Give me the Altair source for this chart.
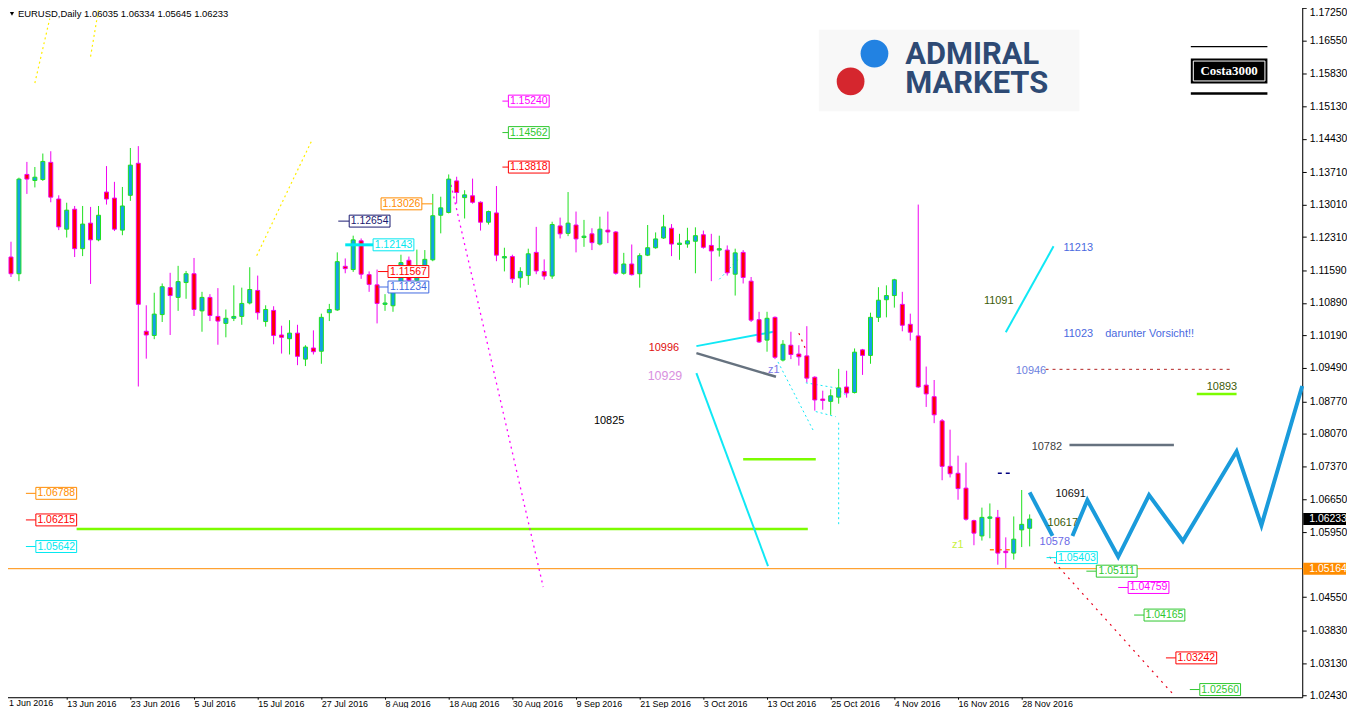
import json
import altair as alt
import pandas as pd

# ---------------- data ----------------
# daily candles, index 0 = 1 Jun 2016, index 129 = 29 Nov 2016
OPEN = [1.1128, 1.1188, 1.1152, 1.1366, 1.1353, 1.1355, 1.1392, 1.1313, 1.1248, 1.1291,
        1.1206, 1.1261, 1.1225, 1.1328, 1.1315, 1.1246, 1.1321, 1.1390, 1.1028, 1.1019,
        1.1064, 1.1122, 1.1101, 1.1133, 1.1152, 1.1072, 1.1101, 1.1060, 1.1045, 1.1056,
        1.1060, 1.1089, 1.1116, 1.1049, 1.1073, 1.1020, 1.1012, 1.1024, 1.0968, 1.0992,
        1.0985, 1.1068, 1.1074, 1.1168, 1.1161, 1.1223, 1.1150, 1.1128, 1.1086, 1.1083,
        1.1133, 1.1181, 1.1138, 1.1165, 1.1182, 1.1278, 1.1284, 1.1352, 1.1316, 1.1320,
        1.1306, 1.1263, 1.1283, 1.1186, 1.1189, 1.1143, 1.1148, 1.1198, 1.1157, 1.1147,
        1.1255, 1.1239, 1.1257, 1.1230, 1.1238, 1.1216, 1.1246, 1.1242, 1.1153, 1.1173,
        1.1152, 1.1192, 1.1208, 1.1229, 1.1250, 1.1215, 1.1216, 1.1222, 1.1236, 1.1213,
        1.1203, 1.1203, 1.1151, 1.1198, 1.1136, 1.1053, 1.1009, 1.1058, 1.0966, 1.0998,
        1.0979, 1.0975, 1.0929, 1.0882, 1.0877, 1.0886, 1.0908, 1.0896, 1.0988, 1.0976,
        1.1058, 1.1096, 1.1105, 1.1086, 1.1043, 1.1018, 1.0912, 1.0887, 1.0835, 1.0737,
        1.0722, 1.0690, 1.0620, 1.0587, 1.0625, 1.0627, 1.0554, 1.0550, 1.0600, 1.06035]
HIGH = [1.1196, 1.1221, 1.1359, 1.1393, 1.1382, 1.1411, 1.1416, 1.1321, 1.1305, 1.1298,
        1.1298, 1.1296, 1.1298, 1.1384, 1.1350, 1.1339, 1.1423, 1.1427, 1.1084, 1.1111,
        1.1131, 1.1154, 1.1169, 1.1158, 1.1186, 1.1113, 1.1108, 1.1121, 1.1075, 1.1127,
        1.1122, 1.1166, 1.1148, 1.1084, 1.1082, 1.1040, 1.1052, 1.1042, 1.0998, 1.1030,
        1.1066, 1.1087, 1.1198, 1.1185, 1.1234, 1.1228, 1.1157, 1.1161, 1.1108, 1.1125,
        1.1193, 1.1189, 1.1204, 1.1203, 1.1324, 1.1318, 1.1366, 1.1361, 1.1332, 1.1357,
        1.1308, 1.1288, 1.1341, 1.1208, 1.1193, 1.1166, 1.1206, 1.1253, 1.1183, 1.1264,
        1.1273, 1.1328, 1.1286, 1.1268, 1.1250, 1.1275, 1.1286, 1.1244, 1.1197, 1.1215,
        1.1196, 1.1257, 1.1241, 1.1279, 1.1259, 1.1238, 1.1251, 1.1252, 1.1245, 1.1238,
        1.1234, 1.1213, 1.1206, 1.1203, 1.1145, 1.1070, 1.1070, 1.1060, 1.1009, 1.1027,
        1.0998, 1.1039, 1.0931, 1.0900, 1.0903, 1.0947, 1.0943, 1.0991, 1.0990, 1.1068,
        1.1123, 1.1127, 1.1141, 1.1113, 1.1066, 1.1301, 1.0952, 1.0923, 1.0839, 1.0816,
        1.0760, 1.0745, 1.0622, 1.0648, 1.0657, 1.0643, 1.0584, 1.0629, 1.0686, 1.06334]
LOW = [1.1113, 1.1145, 1.1136, 1.1324, 1.1338, 1.1352, 1.1306, 1.1246, 1.1230, 1.1188,
       1.1190, 1.1130, 1.1222, 1.1301, 1.1244, 1.1235, 1.1309, 1.0909, 1.0969, 1.1011,
       1.1048, 1.1020, 1.1072, 1.1098, 1.1061, 1.1027, 1.1050, 1.0999, 1.1015, 1.1050,
       1.1042, 1.1086, 1.1053, 1.1038, 1.1000, 1.0980, 1.0978, 1.0955, 1.0953, 1.0978,
       1.0958, 1.1050, 1.1072, 1.1153, 1.1156, 1.1141, 1.1113, 1.1045, 1.1072, 1.1070,
       1.1116, 1.1127, 1.1127, 1.1162, 1.1179, 1.1239, 1.1282, 1.1303, 1.1271, 1.1303,
       1.1245, 1.1258, 1.1179, 1.1157, 1.1132, 1.1122, 1.1128, 1.1151, 1.1139, 1.1141,
       1.1228, 1.1233, 1.1198, 1.1210, 1.1203, 1.1213, 1.1218, 1.1150, 1.1150, 1.1148,
       1.1122, 1.1190, 1.1206, 1.1227, 1.1190, 1.1182, 1.1208, 1.1153, 1.1206, 1.1136,
       1.1189, 1.1148, 1.1105, 1.1131, 1.1048, 1.1003, 1.0984, 1.0968, 1.0963, 1.0968,
       1.0954, 1.0918, 1.0857, 1.0859, 1.0848, 1.0872, 1.0885, 1.0894, 1.0934, 1.0958,
       1.1048, 1.1058, 1.1079, 1.1028, 1.1008, 1.0906, 1.0865, 1.0830, 1.0707, 1.0713,
       1.0665, 1.0620, 1.0567, 1.0577, 1.0582, 1.0525, 1.0518, 1.0536, 1.0563, 1.05645]
CLOSE = [1.1186, 1.1152, 1.1356, 1.1356, 1.1360, 1.1394, 1.1317, 1.1253, 1.1289, 1.1206,
         1.1259, 1.1225, 1.1278, 1.1313, 1.1248, 1.1298, 1.1386, 1.1086, 1.1020, 1.1065,
         1.1124, 1.1105, 1.1135, 1.1152, 1.1075, 1.1101, 1.1062, 1.1050, 1.1056, 1.1060,
         1.1088, 1.1118, 1.1068, 1.1075, 1.1019, 1.1015, 1.1024, 1.0974, 1.0994, 1.0984,
         1.1058, 1.1075, 1.1178, 1.1163, 1.1225, 1.1151, 1.1129, 1.1088, 1.1089, 1.1118,
         1.1176, 1.1138, 1.1161, 1.1183, 1.1277, 1.1294, 1.1356, 1.1327, 1.1322, 1.1306,
         1.1263, 1.1286, 1.1192, 1.1189, 1.1141, 1.1157, 1.1195, 1.1158, 1.1147, 1.1258,
         1.1238, 1.1261, 1.1227, 1.1233, 1.1219, 1.1248, 1.1242, 1.1153, 1.1173, 1.1150,
         1.1191, 1.1208, 1.1227, 1.1253, 1.1216, 1.1218, 1.1223, 1.1234, 1.1209, 1.1201,
         1.1206, 1.1154, 1.1197, 1.1144, 1.1052, 1.1005, 1.1056, 1.0972, 1.1000, 1.0978,
         1.0973, 1.0927, 1.0880, 1.0879, 1.0889, 1.0906, 1.0895, 1.0983, 1.0976, 1.1058,
         1.1095, 1.1105, 1.1139, 1.1041, 1.1026, 1.0908, 1.0893, 1.0848, 1.0737, 1.0721,
         1.0689, 1.0623, 1.0593, 1.0627, 1.0628, 1.0550, 1.0551, 1.0580, 1.0612, 1.06233]

X_LABELS = ["1 Jun 2016", "13 Jun 2016", "23 Jun 2016", "5 Jul 2016", "15 Jul 2016",
            "27 Jul 2016", "8 Aug 2016", "18 Aug 2016", "30 Aug 2016", "9 Sep 2016",
            "21 Sep 2016", "3 Oct 2016", "13 Oct 2016", "25 Oct 2016", "4 Nov 2016",
            "16 Nov 2016", "28 Nov 2016"]
BARS_PER_LABEL = 8
Y_TICKS = [1.1725, 1.1655, 1.1583, 1.1513, 1.1443, 1.1371, 1.1301, 1.1231, 1.1159,
           1.1089, 1.1019, 1.0949, 1.0877, 1.0807, 1.0737, 1.0665, 1.0595, 1.0455,
           1.0383, 1.0313, 1.0243]

LAST_PRICE = 1.06233
LEVEL_PRICE = 1.05164
HEADER = "EURUSD,Daily  1.06035 1.06334 1.05645 1.06233"
LOGO = "ADMIRAL\nMARKETS"

# price-label boxes: value, bar index of box start, bar index of the little leader line end
PL_VALUE = [1.15240, 1.14562, 1.13818, 1.13026, 1.12654, 1.12143, 1.11567, 1.11234,
            1.06788, 1.06215, 1.05642, 1.05403, 1.05111, 1.04759, 1.04165, 1.03242, 1.02560]
PL_START = [63.5, 63.5, 63.5, 47.5, 43.5, 46.5, 48.375, 48.375,
            4.125, 4.125, 4.125, 132.375, 137.375, 141.375, 143.375, 147.375, 150.375]
PL_LEADER = [62.75, 62.75, 62.75, 54.0, 42.125, 43.0, 47.125, 47.125,
             2.875, 2.875, 2.875, 131.125, 136.125, 140.125, 142.125, 146.125, 149.125]

# drawn lines: (start bar, start price, end bar, end price)
YELLOW_LINES = [(4.0, 1.1563, 5.875, 1.1702), (11.0, 1.1620, 12.125, 1.1734),
                (31.875, 1.1191, 38.875, 1.1442)]
MAGENTA_LINES = [(56.125, 1.1356, 67.875, 1.0477)]
CYAN_LINES = [(87.125, 1.0996, 97.125, 1.1028), (87.125, 1.0938, 96.125, 1.0522),
              (126.0, 1.1026, 132.0, 1.1211)]
GRAY_LINES = [(87.125, 1.0981, 97.125, 1.0930), (134.0, 1.0783, 147.125, 1.0783)]
CYAN_DOTTED = [(97.375, 1.0962, 101.875, 1.0812), (100.875, 1.0917, 104.625, 1.0906),
               (104.625, 1.0906, 105.875, 1.0891), (102.125, 1.0855, 104.625, 1.0844),
               (105.0, 1.0831, 105.0, 1.0606), (90.0, 1.1140, 92.375, 1.1183)]
RED_DOTTED = [(131.5, 1.0542, 147.125, 1.0244), (100.0, 1.1024, 101.0, 1.0983)]
RED_DASHED = [(131.0, 1.0946, 154.625, 1.0946)]
GREEN_LINES = [(9.25, 1.0602, 101.125, 1.0602), (93.0, 1.0752, 102.125, 1.0752),
               (150.0, 1.0893, 155.0, 1.0893)]
NAVY_DASHED = [(125.0, 1.0722, 126.875, 1.0722)]
ORANGE_DASHED = [(124.0, 1.0557, 126.75, 1.0557)]

# projected zig-zag path (two pieces)
ZZ_PART = [1, 1, 2, 2, 2, 2, 2, 2, 2, 2]
ZZ_BAR = [129.0, 131.875, 134.375, 136.25, 140.125, 144.0, 148.25, 155.0, 158.125, 163.25]
ZZ_PRICE = [1.0681, 1.0587, 1.0587, 1.0664, 1.0542, 1.0675, 1.0576, 1.0769, 1.0610, 1.0910]

# written notes
NOTE_TEXT = ["10996", "10929", "10825", "z1", "z1", "11213", "11091", "11023",
             "darunter Vorsicht!!", "10946", "10893", "10782", "10691", "10617", "10578"]
NOTE_BAR = [81.125, 81.0, 74.25, 96.125, 119.25, 133.25, 123.25, 133.25,
            138.5, 127.25, 151.25, 129.25, 132.25, 131.25, 130.25]
NOTE_PRICE = [1.0992, 1.0932, 1.0835, 1.0945, 1.0567, 1.1208, 1.1093, 1.1022,
              1.1022, 1.0943, 1.0908, 1.0778, 1.0677, 1.0615, 1.0574]

# ---------------- styles ----------------
FONT = "Liberation Sans"
UP_FILL, UP_EDGE = "#12A2E6", "#1EE01E"
DN_FILL, DN_EDGE = "#FF0000", "#F000F0"
PL_COLOR = ["#FF00FF", "#2EC82E", "#FF0000", "#FF8C00", "#191970", "#00E8F0", "#FF0000",
            "#4169E1", "#FF8C00", "#FF0000", "#00E8F0", "#00E8F0", "#2EC82E", "#FF00FF",
            "#2EC82E", "#FF0000", "#2EC82E"]
PL_LEADER_W = [1, 1, 1, 1, 1, 3, 1, 1, 1, 1, 1, 1, 1, 1, 1, 1, 1]
NOTE_COLOR = ["#E01010", "#D990E0", "#000000", "#7878E8", "#C8F040", "#4A6AE0", "#3D5C0A",
              "#4A6AE0", "#4A6AE0", "#6C7FE0", "#3D5C0A", "#404040", "#101010", "#3D5C0A",
              "#6A6AE6"]
NOTE_SIZE = [11, 12.5, 11, 11, 11, 11, 11, 11, 11, 11, 11, 11, 11, 11, 11]

BOX_W = 41 / 8.0          # bar units
BOX_H = 6 / 4665.0        # price units (half height)
PLOT_H = 698

# ---------------- scales / axes ----------------
xs = alt.Scale(domain=[-0.125, 163.25], nice=False, zero=False, padding=0)
ys = alt.Scale(domain=[1.023945, 1.17357], nice=False, zero=False, padding=0)
x_vals = list(range(BARS_PER_LABEL, BARS_PER_LABEL * len(X_LABELS), BARS_PER_LABEL))
x_axis = alt.Axis(values=x_vals,
                  labelExpr=f"{json.dumps(X_LABELS)}[round(datum.value / {BARS_PER_LABEL})]",
                  orient="bottom", grid=False, labelAlign="left", labelBaseline="top",
                  labelPadding=0, tickSize=2, labelFont=FONT, labelFontSize=9,
                  labelColor="black", domainColor="black", tickColor="black",
                  labelFlush=False, labelOverlap=False, title=None)
y_axis = alt.Axis(values=Y_TICKS, format=".5f", orient="right", grid=False,
                  labelPadding=3, tickSize=4, labelFont=FONT, labelFontSize=10.5,
                  labelBaseline=alt.condition("datum.value > 1.17", alt.value("top"),
                                              alt.value("middle")),
                  labelColor="black", domainColor="black", tickColor="black",
                  labelOverlap=False, labelFlush=False, title=None)


def X(f):
    return alt.X(f, type="quantitative", scale=xs, axis=x_axis)


def Y(f):
    return alt.Y(f, type="quantitative", scale=ys, axis=y_axis)


def seg_layer(segs, color, width, dash=None):
    df = pd.DataFrame(segs, columns=["x1", "p1", "x2", "p2"])
    kw = dict(color=color, strokeWidth=width)
    if dash:
        kw["strokeDash"] = dash
    return alt.Chart(df).mark_rule(**kw).encode(x=X("x1"), y=Y("p1"), x2="x2", y2="p2")


one = pd.DataFrame({"k": [0]})

# first date label (kept inside the visible page area)
first_lbl = alt.Chart(pd.DataFrame({"t": [X_LABELS[0]]})).mark_text(
    font=FONT, fontSize=9, color="black", align="left", baseline="top").encode(
    x=alt.value(7), y=alt.value(PLOT_H + 2), text="t:N")

# logo / decorations in pixel space
logo_bg = alt.Chart(one).mark_rect(fill="#F8F8F8").encode(
    x=alt.value(821), x2=alt.value(1083), y=alt.value(27), y2=alt.value(109))
logo_blue = alt.Chart(one).mark_circle(color="#2282E2", opacity=1, size=780).encode(
    x=alt.value(877), y=alt.value(51))
logo_red = alt.Chart(one).mark_circle(color="#D5262E", opacity=1, size=780).encode(
    x=alt.value(853), y=alt.value(79))
logo_txt = alt.Chart(pd.DataFrame({"t": [LOGO]})).mark_text(
    font="Roboto", fontWeight="bold", fontSize=31, lineHeight=30, lineBreak="\n",
    color="#2E4A74", align="left", baseline="middle").encode(
    x=alt.value(908), y=alt.value(52), text="t:N")

costa_l1 = alt.Chart(one).mark_rule(color="black", strokeWidth=1.5).encode(
    x=alt.value(1195), x2=alt.value(1272), y=alt.value(44))
costa_l2 = alt.Chart(one).mark_rule(color="black", strokeWidth=2.5).encode(
    x=alt.value(1195), x2=alt.value(1272), y=alt.value(91))
costa_box = alt.Chart(one).mark_rect(fill="black").encode(
    x=alt.value(1195), x2=alt.value(1272), y=alt.value(56), y2=alt.value(81))
costa_in = alt.Chart(one).mark_rect(fill=None, stroke="white", strokeWidth=1).encode(
    x=alt.value(1197.5), x2=alt.value(1269.5), y=alt.value(58.5), y2=alt.value(78.5))
costa_txt = alt.Chart(pd.DataFrame({"t": ["Costa3000"]})).mark_text(
    font="Liberation Serif", fontWeight="bold", fontSize=13, color="white",
    align="center", baseline="middle").encode(x=alt.value(1233.5), y=alt.value(69), text="t:N")

hdr_tri = alt.Chart(one).mark_point(shape="triangle-down", filled=True, color="black",
                                    size=18, opacity=1).encode(x=alt.value(10), y=alt.value(11))
hdr_txt = alt.Chart(pd.DataFrame({"t": [HEADER]})).mark_text(
    font=FONT, fontSize=9.5, color="black", align="left", baseline="middle").encode(
    x=alt.value(16), y=alt.value(11), text="t:N")

# candles
cd = pd.DataFrame({"i": range(len(OPEN)), "open": OPEN, "high": HIGH, "low": LOW, "close": CLOSE})
cd["dir"] = ["up" if c >= o else "down" for o, c in zip(OPEN, CLOSE)]
wicks = alt.Chart(cd).mark_rule(strokeWidth=1).encode(
    x=X("i"), y=Y("low"), y2="high",
    color=alt.Color("dir:N", scale=alt.Scale(domain=["up", "down"], range=[UP_EDGE, DN_EDGE]),
                    legend=None))
bodies = alt.Chart(cd).mark_bar(size=4, strokeWidth=1).encode(
    x=X("i"), y=Y("open"), y2="close",
    fill=alt.Fill("dir:N", scale=alt.Scale(domain=["up", "down"], range=[UP_FILL, DN_FILL]),
                  legend=None),
    stroke=alt.Stroke("dir:N", scale=alt.Scale(domain=["up", "down"], range=[UP_EDGE, DN_EDGE]),
                      legend=None))

# level line
level = alt.Chart(pd.DataFrame({"p": [LEVEL_PRICE]})).mark_rule(
    color="#FF8C00", strokeWidth=1).encode(y=Y("p"))

# price label boxes
pl = pd.DataFrame({"v": PL_VALUE, "bx": PL_START, "lx": PL_LEADER, "col": PL_COLOR,
                   "lw": PL_LEADER_W})
pl["bx2"] = pl["bx"] + BOX_W
pl["cx"] = pl["bx"] + BOX_W / 2
pl["top"] = pl["v"] + BOX_H
pl["bot"] = pl["v"] - BOX_H
pl["lend"] = [b if l < b else b + BOX_W for l, b in zip(pl["lx"], pl["bx"])]
pl["txt"] = [f"{v:.5f}" for v in PL_VALUE]
pl_lead = alt.Chart(pl).mark_rule().encode(
    x=X("lx"), x2="lend", y=Y("v"), color=alt.Color("col:N", scale=None),
    size=alt.Size("lw:Q", scale=None))
pl_box = alt.Chart(pl).mark_rect(fill="white", strokeWidth=1).encode(
    x=X("bx"), x2="bx2", y=Y("bot"), y2="top", stroke=alt.Stroke("col:N", scale=None))
pl_txt = alt.Chart(pl).mark_text(font=FONT, fontSize=10.5, align="center",
                                 baseline="middle").encode(
    x=X("cx"), y=Y("v"), text="txt:N", color=alt.Color("col:N", scale=None))

# zig-zag
zz = pd.DataFrame({"part": ZZ_PART, "b": ZZ_BAR, "p": ZZ_PRICE, "o": range(len(ZZ_BAR))})
zigzag = alt.Chart(zz).mark_line(color="#1A9BDB", strokeWidth=4, strokeCap="butt").encode(
    x=X("b"), y=Y("p"), detail="part:N", order="o:Q")

# notes
nt = pd.DataFrame({"t": NOTE_TEXT, "b": NOTE_BAR, "p": NOTE_PRICE, "c": NOTE_COLOR,
                   "s": NOTE_SIZE})
notes = alt.Chart(nt).mark_text(font=FONT, align="left", baseline="middle").encode(
    x=X("b"), y=Y("p"), text="t:N", color=alt.Color("c:N", scale=None),
    size=alt.Size("s:Q", scale=None))

# axis tags (last price and level)
tags = pd.DataFrame({"v": [LAST_PRICE, LEVEL_PRICE], "c": ["#000000", "#FF8C00"]})
tags["x1"] = 163.375
tags["x2"] = 168.75
tags["xt"] = 164.125
tags["top"] = tags["v"] + BOX_H
tags["bot"] = tags["v"] - BOX_H
tags["txt"] = [f"{v:.5f}" for v in tags["v"]]
tag_box = alt.Chart(tags).mark_rect().encode(
    x=X("x1"), x2="x2", y=Y("bot"), y2="top", fill=alt.Fill("c:N", scale=None))
tag_txt = alt.Chart(tags).mark_text(font=FONT, fontSize=10.5, color="white", align="left",
                                    baseline="middle").encode(x=X("xt"), y=Y("v"), text="txt:N")

chart = alt.layer(
    logo_bg, logo_blue, logo_red, logo_txt,
    costa_l1, costa_l2, costa_box, costa_in, costa_txt,
    seg_layer(YELLOW_LINES, "#FFEE00", 1.2, [2, 3]),
    seg_layer(GREEN_LINES, "#7CFC00", 2.5),
    level,
    seg_layer(MAGENTA_LINES, "#FF00FF", 1.3, [2, 4]),
    seg_layer(CYAN_LINES, "#10E8F5", 2),
    seg_layer(GRAY_LINES, "#66727F", 2.5),
    seg_layer(CYAN_DOTTED, "#10E8F5", 1, [2, 3]),
    seg_layer(RED_DOTTED, "#E8001C", 1.2, [2, 5]),
    seg_layer(RED_DASHED, "#B22222", 1, [3, 4]),
    seg_layer(NAVY_DASHED, "#000080", 1.5, [4, 4]),
    seg_layer(ORANGE_DASHED, "#FF8C00", 1.5, [4, 4]),
    wicks, bodies,
    zigzag,
    pl_lead, pl_box, pl_txt,
    notes,
    tag_box, tag_txt,
    hdr_tri, hdr_txt,
    first_lbl,
).properties(
    width=1307, height=PLOT_H,
    autosize=alt.AutoSizeParams(type="none"),
    padding={"left": -6, "top": -7, "right": 45, "bottom": 9},
).configure_view(stroke="black", strokeWidth=1).configure(background="white")

chart.save("out.html", embed_options={"renderer": "svg", "actions": False})
